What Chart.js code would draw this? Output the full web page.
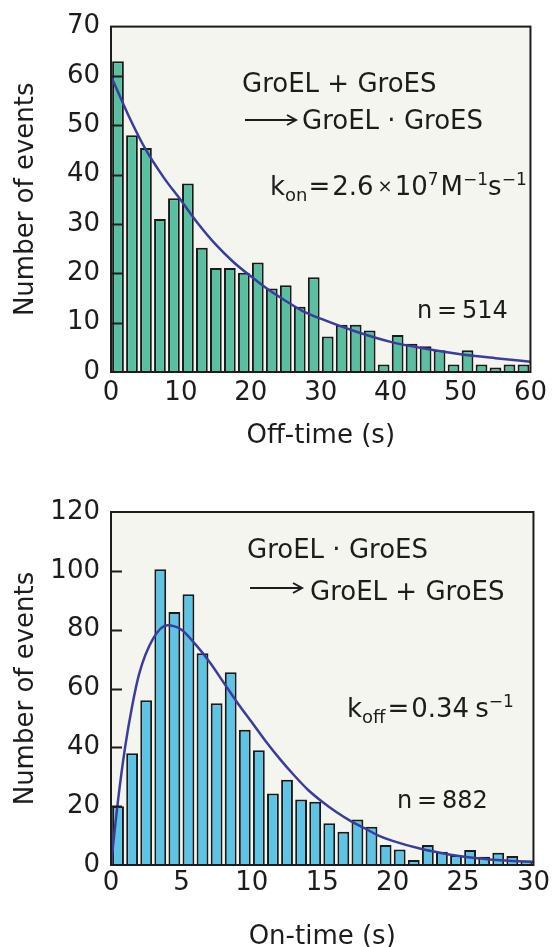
<!DOCTYPE html>
<html>
<head>
<meta charset="utf-8">
<script src="https://cdn.jsdelivr.net/npm/chart.js@4.4.1/dist/chart.umd.min.js"></script>
<style>
html, body { margin: 0; padding: 0; background: #fff; overflow: hidden; }
#wrap { position: relative; width: 553px; height: 947px; }
#top-box { position: absolute; left: 0; top: 0; width: 553px; height: 470px; }
#bottom-box { position: absolute; left: 0; top: 470px; width: 553px; height: 490px; }
</style>
</head>
<body>
<div id="wrap">
  <div id="top-box"><canvas id="chart-off"></canvas></div>
  <div id="bottom-box"><canvas id="chart-on"></canvas></div>
</div>
<script>
// --- Off-time histogram (2 s bins) ---
const offBins = [1, 3, 5, 7, 9, 11, 13, 15, 17, 19, 21, 23, 25, 27, 29, 31, 33, 35, 37, 39, 41, 43, 45, 47, 49, 51, 53, 55, 57, 59];
const offCounts = [63, 48, 45.4, 31, 35.2, 38.2, 25.2, 21.1, 21.1, 20.1, 22.2, 16.9, 17.6, 13.2, 19.2, 7.2, 9.6, 9.6, 8.4, 1.5, 7.5, 5.7, 5.2, 4.4, 1.5, 4.4, 1.5, 0.9, 1.5, 1.5];
const offFitX = [0, 2.5, 5, 7.5, 10, 12.5, 15, 17.5, 20, 22.5, 25, 27.5, 30, 35, 40, 45, 50, 55, 60];
const offFitY = [60, 52, 45, 39.5, 34.8, 30, 25.8, 22.3, 19.4, 16.7, 14.4, 12.3, 10.8, 8.2, 6.1, 4.7, 3.6, 2.8, 2.1];
const offTicksX = [0, 10, 20, 30, 40, 50, 60];
const offTicksY = [0, 10, 20, 30, 40, 50, 60, 70];

// --- On-time histogram (1 s bins) ---
const onBins = [0.5, 1.5, 2.5, 3.5, 4.5, 5.5, 6.5, 7.5, 8.5, 9.5, 10.5, 11.5, 12.5, 13.5, 14.5, 15.5, 16.5, 17.5, 18.5, 19.5, 20.5, 21.5, 22.5, 23.5, 24.5, 25.5, 26.5, 27.5, 28.5, 29.5];
const onCounts = [20, 38, 56, 100.5, 86, 92, 72, 55, 65.5, 46, 39, 24.3, 29, 22.3, 21.5, 14.2, 11.3, 15.5, 13, 6.8, 5.3, 1.7, 6.8, 4.5, 3.4, 5.1, 2.8, 4.2, 3.1, 1.5];
const onFitX = [0, 0.5, 1, 1.5, 2, 3, 4, 5, 6, 7, 8, 9, 10, 11, 12, 13, 14, 15, 16, 17, 18, 19, 20, 22, 24, 26, 28, 30];
const onFitY = [0, 22, 40, 54, 65, 77, 81.5, 80, 75, 69, 62, 55, 48.5, 42, 36, 30.5, 25.5, 21.5, 18, 15, 12.5, 10, 8.2, 5.5, 3.6, 2.3, 1.5, 1.0];
const onTicksX = [0, 5, 10, 15, 20, 25, 30];
const onTicksY = [0, 20, 40, 60, 80, 100, 120];

const FONT = '"DejaVu Sans", sans-serif';
const INK = '#1c1c1c';
Chart.defaults.font.family = FONT;
Chart.defaults.font.size = 26;
Chart.defaults.color = INK;

// background, frame, inward ticks and text notes
const figurePlugin = {
    id: 'figure',
    beforeDatasetsDraw(chart) {
        const a = chart.chartArea, ctx = chart.ctx;
        ctx.save();
        ctx.fillStyle = '#f3f5ee';
        ctx.fillRect(a.left, a.top, a.right - a.left, a.bottom - a.top);
        ctx.restore();
    },
    afterDatasetsDraw(chart, args, opts) {
        const a = chart.chartArea, ctx = chart.ctx;
        const ys = chart.scales.y;
        ctx.save();
        ctx.strokeStyle = INK;
        ctx.lineWidth = 2;
        ys.ticks.forEach(t => {
            if (t.value === ys.min || t.value === ys.max) return;
            const py = Math.round(ys.getPixelForValue(t.value)) + 0.5;
            ctx.beginPath();
            ctx.moveTo(a.left, py);
            ctx.lineTo(a.left + opts.tickLen, py);
            ctx.stroke();
        });
        ctx.strokeRect(a.left, a.top, a.right - a.left, a.bottom - a.top);

        // notes
        ctx.fillStyle = INK;
        ctx.textBaseline = 'alphabetic';
        ctx.textAlign = 'left';
        (opts.notes || []).forEach(n => {
            let x = n.x;
            n.parts.forEach(p => {
                ctx.font = p[1] + 'px ' + FONT;
                ctx.fillText(p[0], x, n.y + (p[2] || 0));
                x += ctx.measureText(p[0]).width + (p[3] || 0);
            });
        });
        // arrows
        ctx.lineWidth = 2;
        (opts.arrows || []).forEach(ar => {
            ctx.beginPath();
            ctx.moveTo(ar.x1, ar.y);
            ctx.lineTo(ar.x2, ar.y);
            ctx.moveTo(ar.x2 - 9, ar.y - 5);
            ctx.lineTo(ar.x2, ar.y);
            ctx.lineTo(ar.x2 - 9, ar.y + 5);
            ctx.stroke();
        });
        ctx.restore();
    }
};

function makeHist(canvasId, cfg) {
    return new Chart(document.getElementById(canvasId), {
        type: 'bar',
        plugins: [figurePlugin],
        data: {
            datasets: [
                {
                    type: 'line',
                    data: cfg.fitX.map((x, i) => ({ x: x, y: cfg.fitY[i] })),
                    borderColor: '#3a3d9c',
                    borderWidth: 2.5,
                    pointRadius: 0,
                    cubicInterpolationMode: 'monotone',
                    order: 0
                },
                {
                    type: 'bar',
                    data: cfg.bins.map((x, i) => ({ x: x, y: cfg.counts[i] })),
                    backgroundColor: cfg.barColor,
                    borderColor: '#1a1a1a',
                    borderWidth: 2,
                    borderSkipped: 'start',
                    barPercentage: 0.84,
                    categoryPercentage: 1,
                    order: 1
                }
            ]
        },
        options: {
            responsive: true,
            maintainAspectRatio: false,
            animation: false,
            devicePixelRatio: 1,
            layout: { padding: { left: 0, right: cfg.padRight, top: cfg.padTop, bottom: 0 } },
            plugins: {
                legend: { display: false },
                tooltip: { enabled: false },
                figure: { tickLen: cfg.tickLen, notes: cfg.notes, arrows: cfg.arrows }
            },
            scales: {
                x: {
                    type: 'linear',
                    min: cfg.ticksX[0],
                    max: cfg.ticksX[cfg.ticksX.length - 1],
                    offset: false,
                    grid: { display: false, drawTicks: false },
                    border: { display: false },
                    afterBuildTicks: s => { s.ticks = cfg.ticksX.map(v => ({ value: v })); },
                    afterFit: s => { s.height = cfg.xAxisH; },
                    ticks: { padding: cfg.xTickPad, maxRotation: 0, autoSkip: false, color: INK },
                    title: { display: true, text: cfg.xTitle, color: INK, padding: { top: 0, bottom: cfg.xTitlePad } }
                },
                y: {
                    min: cfg.ticksY[0],
                    max: cfg.ticksY[cfg.ticksY.length - 1],
                    grid: { display: false, drawTicks: false },
                    border: { display: false },
                    afterBuildTicks: s => { s.ticks = cfg.ticksY.map(v => ({ value: v })); },
                    afterFit: s => { s.width = 111; },
                    ticks: { padding: 11, color: INK },
                    title: { display: true, text: 'Number of events', color: INK, padding: { top: 11, bottom: 0 } }
                }
            }
        }
    });
}

makeHist('chart-off', {
    bins: offBins, counts: offCounts, fitX: offFitX, fitY: offFitY,
    ticksX: offTicksX, ticksY: offTicksY,
    barColor: '#58c0a0',
    xTitle: 'Off-time (s)',
    padTop: 23, padRight: 17, xAxisH: 98, xTickPad: 6, xTitlePad: 18, tickLen: 12,
    notes: [
        { x: 242, y: 92, parts: [['GroEL + GroES', 26]] },
        { x: 302, y: 129, parts: [['GroEL · GroES', 26]] },
        { x: 270, y: 195, parts: [['k', 26], ['on', 18, 6, 1], ['=', 26, 0, 2], ['2.6', 26, 0, 4], ['×', 18, -3, 2], ['10', 26], ['7', 17, -10, 2], ['M', 26], ['−1', 17, -10], ['s', 26], ['−1', 17, -10]] },
        { x: 417, y: 318, parts: [['n\u2009=\u2009514', 24]] }
    ],
    arrows: [{ x1: 245, x2: 296, y: 120 }]
});

makeHist('chart-on', {
    bins: onBins, counts: onCounts, fitX: onFitX, fitY: onFitY,
    ticksX: onTicksX, ticksY: onTicksY,
    barColor: '#5ec4e6',
    xTitle: 'On-time (s)',
    padTop: 42, padRight: 18, xAxisH: 95, xTickPad: 3, xTitlePad: 7, tickLen: 11,
    notes: [
        { x: 247, y: 88, parts: [['GroEL · GroES', 26]] },
        { x: 310, y: 130, parts: [['GroEL + GroES', 26]] },
        { x: 347, y: 247, parts: [['k', 26], ['off', 18, 6, 2], ['=', 26, 0, 2], ['0.34', 26, 0, 6], ['s', 26], ['−1', 17, -10]] },
        { x: 397, y: 338, parts: [['n\u2009=\u2009882', 24]] }
    ],
    arrows: [{ x1: 250, x2: 302, y: 118 }]
});
</script>
</body>
</html>
